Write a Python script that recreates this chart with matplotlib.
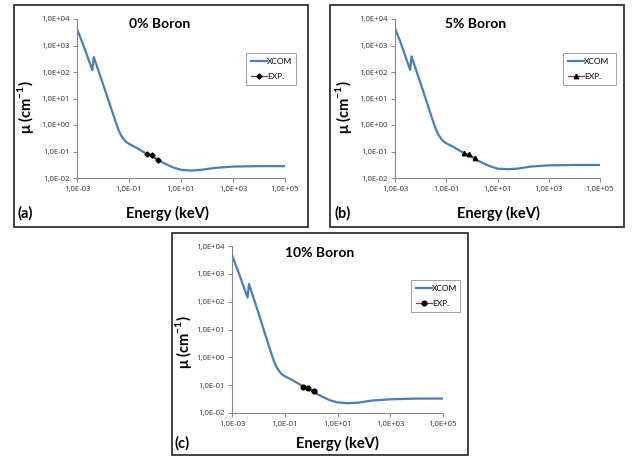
import matplotlib
matplotlib.use('Agg')
import matplotlib.pyplot as plt
from matplotlib.patches import Rectangle

plt.rcParams['font.family'] = ['Lato', 'DejaVu Sans']
plt.rcParams['mathtext.fontset'] = 'custom'
plt.rcParams['mathtext.rm'] = 'Lato'
plt.rcParams['mathtext.bf'] = 'Lato:bold'

# ---------------- data ----------------
energy = [0.001, 0.0017, 0.0039, 0.0044, 0.01, 0.03, 0.04, 0.05, 0.065, 0.08, 0.1, 0.2, 0.5,
          1, 2, 5, 10, 25, 60, 200, 1000, 1e4, 1e5]

xcom_0 = [4200, 1120, 117, 370, 35, 1.4, 0.63, 0.40, 0.28, 0.225, 0.195, 0.135, 0.079,
          0.056, 0.038, 0.025, 0.0204, 0.019, 0.0204, 0.024, 0.027, 0.028, 0.028]
xcom_5 = [4500, 1200, 120, 390, 37, 1.45, 0.66, 0.42, 0.295, 0.235, 0.205, 0.145, 0.086,
          0.061, 0.042, 0.028, 0.0225, 0.0215, 0.0225, 0.027, 0.030, 0.031, 0.031]
xcom_10 = [4800, 1250, 140, 430, 40, 1.5, 0.68, 0.43, 0.30, 0.24, 0.21, 0.15, 0.09,
           0.064, 0.044, 0.029, 0.024, 0.0225, 0.0235, 0.028, 0.031, 0.033, 0.033]

exp_energy = [0.49, 0.79, 1.27]
exp_0 = [0.078, 0.072, 0.049]
exp_5 = [0.085, 0.078, 0.058]
exp_10 = [0.089, 0.076, 0.060]

titles = ['0% Boron', '5% Boron', '10% Boron']
panel_tags = ['(a)', '(b)', '(c)']
legend_labels = ['XCOM', 'EXP.']
x_ticks = [1e-3, 1e-1, 1e1, 1e3, 1e5]
x_tick_labels = ['1,0E-03', '1,0E-01', '1,0E+01', '1,0E+03', '1,0E+05']
y_ticks = [1e-2, 1e-1, 1e0, 1e1, 1e2, 1e3, 1e4]
y_tick_labels = ['1,0E-02', '1,0E-01', '1,0E+00', '1,0E+01', '1,0E+02', '1,0E+03', '1,0E+04']
x_label = 'Energy (keV)'
y_label = r'μ (cm$^{\mathbf{-1}}$)'

series = [xcom_0, xcom_5, xcom_10]
exps = [exp_0, exp_5, exp_10]
markers = ['D', '^', 'o']
marker_sizes = [2.6, 3.2, 3.4]

# ---------------- layout (pixels) ----------------
W, H = 633, 458
fig = plt.figure(figsize=(W / 100, H / 100), dpi=100)

layout = [
    dict(frame=(14, 5, 308, 227), axes=(77, 19, 285, 178), leg=(246, 15, 296, 53),
         title=(160, 24), xlab=(167, 213), tag=(25, 213), ylab=(25, 107)),
    dict(frame=(330, 5, 624, 227), axes=(395, 19, 600, 178), leg=(563, 15, 616, 53),
         title=(476, 24), xlab=(498, 213), tag=(343, 213), ylab=(343, 107)),
    dict(frame=(172, 233, 468, 455), axes=(232, 246, 443, 413), leg=(411, 241, 460, 280),
         title=(320, 253), xlab=(337, 443), tag=(182, 443), ylab=(183, 342)),
]

blue = '#4A7EBB'
dred = '#953735'
gray = '#868686'
tick_font = 'Open Sans'


def fx(px):
    return px / W


def fy(py):
    return 1 - py / H


for i, L in enumerate(layout):
    fl, ft, fr, fb = L['frame']
    fig.patches.append(Rectangle((fx(fl), fy(fb)), fx(fr) - fx(fl), fy(ft) - fy(fb),
                                 transform=fig.transFigure, fill=False,
                                 edgecolor='#333333', linewidth=1.3))
    al, at, ar, ab = L['axes']
    ax = fig.add_axes([fx(al), fy(ab), fx(ar) - fx(al), fy(at) - fy(ab)])
    ax.set_xscale('log')
    ax.set_yscale('log')
    ax.plot(energy, series[i], color=blue, lw=1.6, label=legend_labels[0], zorder=2)
    ax.plot(exp_energy, exps[i], color=dred, lw=0.9, marker=markers[i],
            ms=marker_sizes[i], mfc='black', mec='black', label=legend_labels[1], zorder=3)
    ax.set_xlim(1e-3, 1e5)
    ax.set_ylim(1e-2, 1e4)
    ax.set_xticks(x_ticks)
    ax.set_xticklabels(x_tick_labels, fontfamily=tick_font)
    ax.set_yticks(y_ticks)
    ax.set_yticklabels(y_tick_labels, fontfamily=tick_font)
    ax.minorticks_off()
    for s in ['top', 'right']:
        ax.spines[s].set_visible(False)
    for s in ['left', 'bottom']:
        ax.spines[s].set_color(gray)
        ax.spines[s].set_linewidth(0.8)
    ax.tick_params(axis='both', direction='out', length=3, width=0.7, color=gray,
                   labelsize=5.6, labelcolor='#303030', pad=2.5)
    ax.patch.set_alpha(0)

    ll, lt, lr, lb = L['leg']
    leg = ax.legend(loc='upper left', bbox_to_anchor=(fx(ll), fy(lt), fx(lr) - fx(ll), fy(lb) - fy(lt)),
                    bbox_transform=fig.transFigure, mode='expand', fontsize=6,
                    handlelength=1.9, handletextpad=0.0, labelspacing=1.0,
                    borderpad=0.6, borderaxespad=0, fancybox=False, framealpha=1)
    leg.get_frame().set_edgecolor('#A0A0A0')
    leg.get_frame().set_linewidth(0.7)

    tx, ty = L['title']
    fig.text(fx(tx), fy(ty), titles[i], fontsize=10, fontweight='bold',
             ha='center', va='center')
    xx, xy = L['xlab']
    fig.text(fx(xx), fy(xy), x_label, fontsize=10.5, fontweight='bold',
             ha='center', va='center')
    gx, gy = L['tag']
    fig.text(fx(gx), fy(gy), panel_tags[i], fontsize=10.5, fontweight='bold',
             ha='center', va='center')
    yx, yy = L['ylab']
    fig.text(fx(yx), fy(yy), y_label, fontsize=10.5, fontweight='bold',
             ha='center', va='center', rotation=90)

fig.savefig('out.png', dpi=100)
